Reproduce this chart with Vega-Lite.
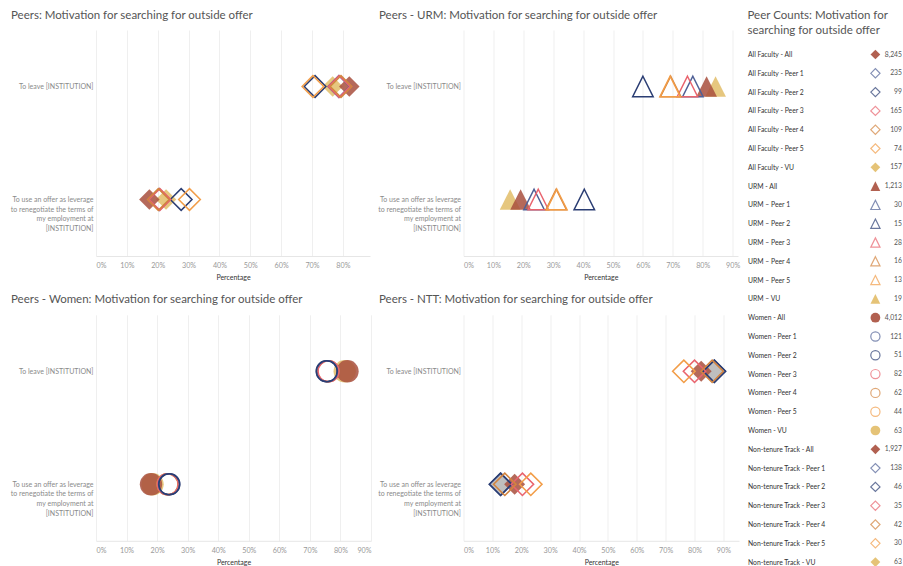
{
  "$schema": "https://vega.github.io/schema/vega-lite/v6.json",
  "autosize": {"type": "pad"},
  "padding": {"left": 10, "top": 9, "right": 0, "bottom": 0},
  "background": "white",
  "config": {
    "font": "Lato",
    "view": {"stroke": null},
    "title": {"anchor": "start", "frame": "group", "fontSize": 11.5, "fontWeight": "normal", "color": "#555555", "offset": 9, "baseline": "alphabetic", "font": "Lato"},
    "axisX": {"labelFontSize": 7.2, "labelColor": "#999999", "labelPadding": 5.5, "domainColor": "#e6e6e6", "gridColor": "#efefef", "ticks": false, "titleFontSize": 7, "titleColor": "#333333", "titleFontWeight": "normal", "titlePadding": 5, "labelFlush": true, "labelExpr": "datum.value + '%'"},
    "axisY": {"labelFontSize": 7, "labelColor": "#8a8a8a", "labelPadding": 3, "ticks": false, "domain": false, "grid": false, "title": null, "labelLimit": 220, "labelLineHeight": 9.7, "labelBaseline": "middle"}
  },
  "datasets": {
    "points": [
      {"panel": "All Faculty", "series": "VU", "motivation": "To leave [INSTITUTION]", "value": 76.7},
      {"panel": "All Faculty", "series": "VU", "motivation": "To use an offer as leverage to renegotiate the terms of my employment at [INSTITUTION]", "value": 22.7},
      {"panel": "All Faculty", "series": "All", "motivation": "To leave [INSTITUTION]", "value": 82.1},
      {"panel": "All Faculty", "series": "All", "motivation": "To use an offer as leverage to renegotiate the terms of my employment at [INSTITUTION]", "value": 17.3},
      {"panel": "All Faculty", "series": "Peer 1", "motivation": "To leave [INSTITUTION]", "value": 78.7},
      {"panel": "All Faculty", "series": "Peer 1", "motivation": "To use an offer as leverage to renegotiate the terms of my employment at [INSTITUTION]", "value": 20.5},
      {"panel": "All Faculty", "series": "Peer 2", "motivation": "To leave [INSTITUTION]", "value": 71.0},
      {"panel": "All Faculty", "series": "Peer 2", "motivation": "To use an offer as leverage to renegotiate the terms of my employment at [INSTITUTION]", "value": 27.6},
      {"panel": "All Faculty", "series": "Peer 3", "motivation": "To leave [INSTITUTION]", "value": 78.8},
      {"panel": "All Faculty", "series": "Peer 3", "motivation": "To use an offer as leverage to renegotiate the terms of my employment at [INSTITUTION]", "value": 20.7},
      {"panel": "All Faculty", "series": "Peer 4", "motivation": "To leave [INSTITUTION]", "value": 79.4},
      {"panel": "All Faculty", "series": "Peer 4", "motivation": "To use an offer as leverage to renegotiate the terms of my employment at [INSTITUTION]", "value": 20.2},
      {"panel": "All Faculty", "series": "Peer 5", "motivation": "To leave [INSTITUTION]", "value": 70.3},
      {"panel": "All Faculty", "series": "Peer 5", "motivation": "To use an offer as leverage to renegotiate the terms of my employment at [INSTITUTION]", "value": 30.3},

      {"panel": "URM", "series": "VU", "motivation": "To leave [INSTITUTION]", "value": 84.3},
      {"panel": "URM", "series": "VU", "motivation": "To use an offer as leverage to renegotiate the terms of my employment at [INSTITUTION]", "value": 15.6},
      {"panel": "URM", "series": "All", "motivation": "To leave [INSTITUTION]", "value": 81.3},
      {"panel": "URM", "series": "All", "motivation": "To use an offer as leverage to renegotiate the terms of my employment at [INSTITUTION]", "value": 19.1},
      {"panel": "URM", "series": "Peer 1", "motivation": "To leave [INSTITUTION]", "value": 76.7},
      {"panel": "URM", "series": "Peer 1", "motivation": "To use an offer as leverage to renegotiate the terms of my employment at [INSTITUTION]", "value": 23.6},
      {"panel": "URM", "series": "Peer 2", "motivation": "To leave [INSTITUTION]", "value": 60.0},
      {"panel": "URM", "series": "Peer 2", "motivation": "To use an offer as leverage to renegotiate the terms of my employment at [INSTITUTION]", "value": 40.4},
      {"panel": "URM", "series": "Peer 3", "motivation": "To leave [INSTITUTION]", "value": 74.9},
      {"panel": "URM", "series": "Peer 3", "motivation": "To use an offer as leverage to renegotiate the terms of my employment at [INSTITUTION]", "value": 25.0},
      {"panel": "URM", "series": "Peer 4", "motivation": "To leave [INSTITUTION]", "value": 69.3},
      {"panel": "URM", "series": "Peer 4", "motivation": "To use an offer as leverage to renegotiate the terms of my employment at [INSTITUTION]", "value": 31.0},
      {"panel": "URM", "series": "Peer 5", "motivation": "To leave [INSTITUTION]", "value": 69.1},
      {"panel": "URM", "series": "Peer 5", "motivation": "To use an offer as leverage to renegotiate the terms of my employment at [INSTITUTION]", "value": 31.2},

      {"panel": "Women", "series": "VU", "motivation": "To leave [INSTITUTION]", "value": 81.4},
      {"panel": "Women", "series": "VU", "motivation": "To use an offer as leverage to renegotiate the terms of my employment at [INSTITUTION]", "value": 18.5},
      {"panel": "Women", "series": "All", "motivation": "To leave [INSTITUTION]", "value": 82.3},
      {"panel": "Women", "series": "All", "motivation": "To use an offer as leverage to renegotiate the terms of my employment at [INSTITUTION]", "value": 18.0},
      {"panel": "Women", "series": "Peer 5", "motivation": "To leave [INSTITUTION]", "value": 75.9},
      {"panel": "Women", "series": "Peer 5", "motivation": "To use an offer as leverage to renegotiate the terms of my employment at [INSTITUTION]", "value": 23.5},
      {"panel": "Women", "series": "Peer 4", "motivation": "To leave [INSTITUTION]", "value": 76.0},
      {"panel": "Women", "series": "Peer 4", "motivation": "To use an offer as leverage to renegotiate the terms of my employment at [INSTITUTION]", "value": 23.4},
      {"panel": "Women", "series": "Peer 3", "motivation": "To leave [INSTITUTION]", "value": 76.1},
      {"panel": "Women", "series": "Peer 3", "motivation": "To use an offer as leverage to renegotiate the terms of my employment at [INSTITUTION]", "value": 23.5},
      {"panel": "Women", "series": "Peer 1", "motivation": "To leave [INSTITUTION]", "value": 75.6},
      {"panel": "Women", "series": "Peer 1", "motivation": "To use an offer as leverage to renegotiate the terms of my employment at [INSTITUTION]", "value": 23.9},
      {"panel": "Women", "series": "Peer 2", "motivation": "To leave [INSTITUTION]", "value": 75.5},
      {"panel": "Women", "series": "Peer 2", "motivation": "To use an offer as leverage to renegotiate the terms of my employment at [INSTITUTION]", "value": 24.0},

      {"panel": "NTT", "series": "VU", "motivation": "To leave [INSTITUTION]", "value": 86.8},
      {"panel": "NTT", "series": "VU", "motivation": "To use an offer as leverage to renegotiate the terms of my employment at [INSTITUTION]", "value": 12.9},
      {"panel": "NTT", "series": "All", "motivation": "To leave [INSTITUTION]", "value": 82.3},
      {"panel": "NTT", "series": "All", "motivation": "To use an offer as leverage to renegotiate the terms of my employment at [INSTITUTION]", "value": 17.7},
      {"panel": "NTT", "series": "Peer 1", "motivation": "To leave [INSTITUTION]", "value": 86.8},
      {"panel": "NTT", "series": "Peer 1", "motivation": "To use an offer as leverage to renegotiate the terms of my employment at [INSTITUTION]", "value": 12.9},
      {"panel": "NTT", "series": "Peer 2", "motivation": "To leave [INSTITUTION]", "value": 86.9},
      {"panel": "NTT", "series": "Peer 2", "motivation": "To use an offer as leverage to renegotiate the terms of my employment at [INSTITUTION]", "value": 12.8},
      {"panel": "NTT", "series": "Peer 3", "motivation": "To leave [INSTITUTION]", "value": 80.0},
      {"panel": "NTT", "series": "Peer 3", "motivation": "To use an offer as leverage to renegotiate the terms of my employment at [INSTITUTION]", "value": 20.4},
      {"panel": "NTT", "series": "Peer 4", "motivation": "To leave [INSTITUTION]", "value": 86.1},
      {"panel": "NTT", "series": "Peer 4", "motivation": "To use an offer as leverage to renegotiate the terms of my employment at [INSTITUTION]", "value": 14.3},
      {"panel": "NTT", "series": "Peer 5", "motivation": "To leave [INSTITUTION]", "value": 76.3},
      {"panel": "NTT", "series": "Peer 5", "motivation": "To use an offer as leverage to renegotiate the terms of my employment at [INSTITUTION]", "value": 23.3}
    ],
    "counts": [
      {"label": "All Faculty - All", "panel": "All Faculty", "series": "All", "count": 8245},
      {"label": "All Faculty - Peer 1", "panel": "All Faculty", "series": "Peer 1", "count": 235},
      {"label": "All Faculty - Peer 2", "panel": "All Faculty", "series": "Peer 2", "count": 99},
      {"label": "All Faculty - Peer 3", "panel": "All Faculty", "series": "Peer 3", "count": 165},
      {"label": "All Faculty - Peer 4", "panel": "All Faculty", "series": "Peer 4", "count": 109},
      {"label": "All Faculty - Peer 5", "panel": "All Faculty", "series": "Peer 5", "count": 74},
      {"label": "All Faculty - VU", "panel": "All Faculty", "series": "VU", "count": 157},
      {"label": "URM - All", "panel": "URM", "series": "All", "count": 1213},
      {"label": "URM – Peer 1", "panel": "URM", "series": "Peer 1", "count": 30},
      {"label": "URM – Peer 2", "panel": "URM", "series": "Peer 2", "count": 15},
      {"label": "URM – Peer 3", "panel": "URM", "series": "Peer 3", "count": 28},
      {"label": "URM – Peer 4", "panel": "URM", "series": "Peer 4", "count": 16},
      {"label": "URM – Peer 5", "panel": "URM", "series": "Peer 5", "count": 13},
      {"label": "URM – VU", "panel": "URM", "series": "VU", "count": 19},
      {"label": "Women - All", "panel": "Women", "series": "All", "count": 4012},
      {"label": "Women - Peer 1", "panel": "Women", "series": "Peer 1", "count": 121},
      {"label": "Women - Peer 2", "panel": "Women", "series": "Peer 2", "count": 51},
      {"label": "Women - Peer 3", "panel": "Women", "series": "Peer 3", "count": 82},
      {"label": "Women - Peer 4", "panel": "Women", "series": "Peer 4", "count": 62},
      {"label": "Women - Peer 5", "panel": "Women", "series": "Peer 5", "count": 44},
      {"label": "Women - VU", "panel": "Women", "series": "VU", "count": 63},
      {"label": "Non-tenure Track - All", "panel": "NTT", "series": "All", "count": 1927},
      {"label": "Non-tenure Track - Peer 1", "panel": "NTT", "series": "Peer 1", "count": 138},
      {"label": "Non-tenure Track - Peer 2", "panel": "NTT", "series": "Peer 2", "count": 46},
      {"label": "Non-tenure Track - Peer 3", "panel": "NTT", "series": "Peer 3", "count": 35},
      {"label": "Non-tenure Track - Peer 4", "panel": "NTT", "series": "Peer 4", "count": 42},
      {"label": "Non-tenure Track - Peer 5", "panel": "NTT", "series": "Peer 5", "count": 30},
      {"label": "Non-tenure Track - VU", "panel": "NTT", "series": "VU", "count": 63}
    ]
  },
  "columns": 3,
  "bounds": "flush",
  "spacing": {"row": 58.8, "column": 92.5},
  "resolve": {"scale": {"x": "independent", "y": "independent", "color": "shared", "shape": "shared"}},
  "concat": [
    {
      "width": 274, "height": 226,
      "title": {"text": "Peers: Motivation for searching for outside offer", "dx": -85},
      "data": {"name": "points"},
      "transform": [{"filter": "datum.panel === 'All Faculty'"}],
      "encoding": {
        "x": {"field": "value", "type": "quantitative", "scale": {"domain": [0, 88.8], "nice": false, "zero": true}, "axis": {"title": "Percentage", "values": [0, 10, 20, 30, 40, 50, 60, 70, 80]}},
        "y": {"field": "motivation", "type": "nominal", "sort": ["To leave [INSTITUTION]", "To use an offer as leverage to renegotiate the terms of my employment at [INSTITUTION]"], "scale": {"paddingInner": 0, "paddingOuter": 0}, "axis": {"labelExpr": "datum.label === 'To leave [INSTITUTION]' ? datum.label : ['To use an offer as leverage', 'to renegotiate the terms of', 'my employment at', '[INSTITUTION]']"}},
        "color": {"field": "series", "type": "nominal", "scale": {"domain": ["All", "Peer 1", "Peer 2", "Peer 3", "Peer 4", "Peer 5", "VU"], "range": ["#a84f3d", "#4f6096", "#2a3d73", "#e9646e", "#d3843f", "#f29d48", "#e2bd68"]}, "legend": null}
      },
      "layer": [
        {"transform": [{"filter": "datum.series === 'All' || datum.series === 'VU'"}], "mark": {"type": "point", "shape": "diamond", "filled": true, "size": 420, "opacity": 0.85}},
        {"transform": [{"filter": "datum.series !== 'All' && datum.series !== 'VU'"}], "mark": {"type": "point", "shape": "diamond", "filled": false, "size": 470, "strokeWidth": 1.5, "opacity": 1}}
      ]
    },
    {
      "width": 274.5, "height": 226,
      "title": {"text": "Peers - URM: Motivation for searching for outside offer", "dx": -84.5},
      "data": {"name": "points"},
      "transform": [{"filter": "datum.panel === 'URM'"}],
      "encoding": {
        "x": {"field": "value", "type": "quantitative", "scale": {"domain": [0, 91.8], "nice": false, "zero": true}, "axis": {"title": "Percentage", "values": [0, 10, 20, 30, 40, 50, 60, 70, 80, 90]}},
        "y": {"field": "motivation", "type": "nominal", "sort": ["To leave [INSTITUTION]", "To use an offer as leverage to renegotiate the terms of my employment at [INSTITUTION]"], "scale": {"paddingInner": 0, "paddingOuter": 0}, "axis": {"labelExpr": "datum.label === 'To leave [INSTITUTION]' ? datum.label : ['To use an offer as leverage', 'to renegotiate the terms of', 'my employment at', '[INSTITUTION]']"}},
        "color": {"field": "series", "type": "nominal", "legend": null}
      },
      "layer": [
        {"transform": [{"filter": "datum.series === 'All' || datum.series === 'VU'"}], "mark": {"type": "point", "shape": "M0,-1L1,1L-1,1Z", "filled": true, "size": 430, "opacity": 0.85}},
        {"transform": [{"filter": "datum.series !== 'All' && datum.series !== 'VU'"}], "mark": {"type": "point", "shape": "M0,-1L1,1L-1,1Z", "filled": false, "size": 420, "strokeWidth": 1.5, "opacity": 1}}
      ]
    },
    {
      "width": 70, "height": 226,
      "title": {"text": ["Peer Counts: Motivation for", "searching for outside offer"], "dx": -84.5, "dy": 15, "lineHeight": 15},
      "data": {"name": "counts"},
      "encoding": {
        "y": {"field": "label", "type": "nominal",
              "sort": ["All Faculty - All", "All Faculty - Peer 1", "All Faculty - Peer 2", "All Faculty - Peer 3", "All Faculty - Peer 4", "All Faculty - Peer 5", "All Faculty - VU", "URM - All", "URM – Peer 1", "URM – Peer 2", "URM – Peer 3", "URM – Peer 4", "URM – Peer 5", "URM – VU", "Women - All", "Women - Peer 1", "Women - Peer 2", "Women - Peer 3", "Women - Peer 4", "Women - Peer 5", "Women - VU", "Non-tenure Track - All", "Non-tenure Track - Peer 1", "Non-tenure Track - Peer 2", "Non-tenure Track - Peer 3", "Non-tenure Track - Peer 4", "Non-tenure Track - Peer 5", "Non-tenure Track - VU"],
              "scale": {"range": [15.1, 541.5], "paddingInner": 0, "paddingOuter": 0}, "axis": {"labelAlign": "left", "labelPadding": 84.5, "labelFontSize": 6.8, "labelColor": "#333333", "labelLimit": 200}}
      },
      "layer": [
        {"transform": [{"filter": "datum.series === 'All' || datum.series === 'VU'"}], "mark": {"type": "point", "filled": true, "size": 95, "opacity": 0.9},
         "encoding": {
           "x": {"datum": 0.62, "type": "quantitative", "scale": {"domain": [0, 1], "nice": false}, "axis": null},
           "shape": {"field": "panel", "type": "nominal", "scale": {"domain": ["All Faculty", "URM", "Women", "NTT"], "range": ["diamond", "M0,-1L1,1L-1,1Z", "circle", "diamond"]}, "legend": null},
           "color": {"field": "series", "type": "nominal", "legend": null}
         }},
        {"transform": [{"filter": "datum.series !== 'All' && datum.series !== 'VU'"}], "mark": {"type": "point", "filled": false, "size": 85, "strokeWidth": 1.2},
         "encoding": {
           "x": {"datum": 0.62, "type": "quantitative", "scale": {"domain": [0, 1], "nice": false}, "axis": null},
           "shape": {"field": "panel", "type": "nominal", "legend": null},
           "color": {"field": "series", "type": "nominal", "legend": null}
         }},
        {"mark": {"type": "text", "align": "right", "baseline": "middle", "fontSize": 6.8, "color": "#555555"},
         "encoding": {
           "x": {"datum": 1, "type": "quantitative", "scale": {"domain": [0, 1], "nice": false}, "axis": null},
           "text": {"field": "count", "type": "quantitative", "format": ","}
         }}
      ]
    },
    {
      "width": 275, "height": 226,
      "title": {"text": "Peers - Women: Motivation for searching for outside offer", "dx": -85},
      "data": {"name": "points"},
      "transform": [{"filter": "datum.panel === 'Women'"}],
      "encoding": {
        "x": {"field": "value", "type": "quantitative", "scale": {"domain": [0, 90], "nice": false, "zero": true}, "axis": {"title": "Percentage", "values": [0, 10, 20, 30, 40, 50, 60, 70, 80, 90]}},
        "y": {"field": "motivation", "type": "nominal", "sort": ["To leave [INSTITUTION]", "To use an offer as leverage to renegotiate the terms of my employment at [INSTITUTION]"], "scale": {"paddingInner": 0, "paddingOuter": 0}, "axis": {"labelExpr": "datum.label === 'To leave [INSTITUTION]' ? datum.label : ['To use an offer as leverage', 'to renegotiate the terms of', 'my employment at', '[INSTITUTION]']"}},
        "color": {"field": "series", "type": "nominal", "legend": null}
      },
      "layer": [
        {"transform": [{"filter": "datum.series === 'All' || datum.series === 'VU'"}], "mark": {"type": "point", "shape": "circle", "filled": true, "size": 500, "opacity": 0.85}},
        {"transform": [{"filter": "datum.series !== 'All' && datum.series !== 'VU'"}], "mark": {"type": "point", "shape": "circle", "filled": false, "size": 440, "strokeWidth": 1.5, "opacity": 1}}
      ]
    },
    {
      "width": 275.5, "height": 226,
      "title": {"text": "Peers - NTT: Motivation for searching for outside offer", "dx": -84.5},
      "data": {"name": "points"},
      "transform": [{"filter": "datum.panel === 'NTT'"}],
      "encoding": {
        "x": {"field": "value", "type": "quantitative", "scale": {"domain": [0, 95.4], "nice": false, "zero": true}, "axis": {"title": "Percentage", "values": [0, 10, 20, 30, 40, 50, 60, 70, 80, 90]}},
        "y": {"field": "motivation", "type": "nominal", "sort": ["To leave [INSTITUTION]", "To use an offer as leverage to renegotiate the terms of my employment at [INSTITUTION]"], "scale": {"paddingInner": 0, "paddingOuter": 0}, "axis": {"labelExpr": "datum.label === 'To leave [INSTITUTION]' ? datum.label : ['To use an offer as leverage', 'to renegotiate the terms of', 'my employment at', '[INSTITUTION]']"}}
      },
      "layer": [
        {"transform": [{"filter": "datum.series === 'All' || datum.series === 'VU'"}], "mark": {"type": "point", "shape": "diamond", "filled": true, "size": 440, "opacity": 0.85},
         "encoding": {"color": {"condition": {"test": "datum.series === 'VU'", "value": "#b4b4b4"}, "field": "series", "type": "nominal", "legend": null}}},
        {"transform": [{"filter": "datum.series !== 'All' && datum.series !== 'VU'"}], "mark": {"type": "point", "shape": "diamond", "filled": false, "size": 500, "strokeWidth": 1.6, "opacity": 1},
         "encoding": {"color": {"field": "series", "type": "nominal", "legend": null}}}
      ]
    }
  ]
}
